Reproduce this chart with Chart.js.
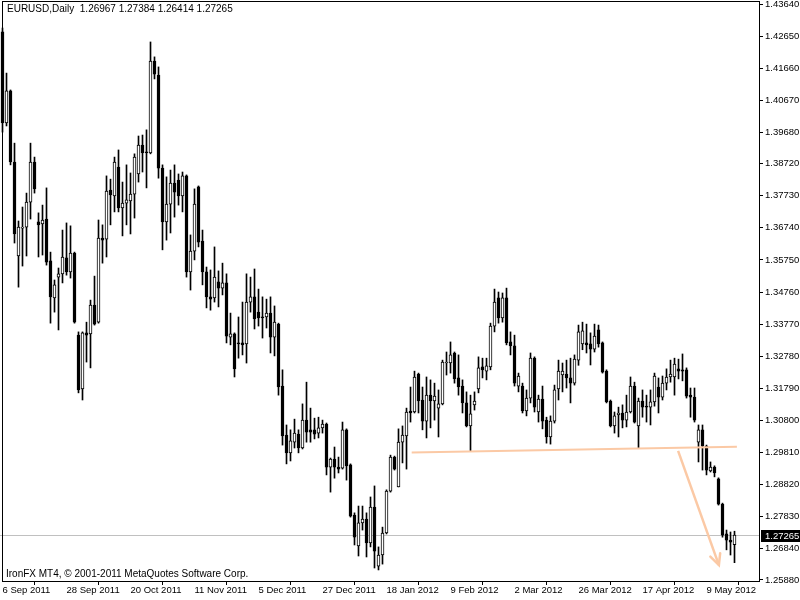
<!DOCTYPE html>
<html>
<head>
<meta charset="utf-8">
<script src="https://cdn.jsdelivr.net/npm/chart.js@4.4.0/dist/chart.umd.min.js"></script>
<style>
  html, body { margin: 0; padding: 0; background: #fff; }
  canvas { display: block; }
</style>
</head>
<body>
<canvas id="chart" width="800" height="600"></canvas>
<script>
// EURUSD daily, 6 Sep 2011 .. mid May 2012, one entry per trading day
const opens = [
  1.4278, 1.3997, 1.4096, 1.3877, 1.3587, 1.3673, 1.3676, 1.3753, 1.3877, 1.3692,
  1.3686, 1.3701, 1.3572, 1.3458, 1.3522, 1.3532, 1.3581, 1.3538, 1.3596, 1.3343,
  1.3177, 1.3350, 1.3347, 1.3436, 1.3383, 1.3642, 1.3639, 1.3790, 1.3772, 1.3861,
  1.3735, 1.3750, 1.3757, 1.3778, 1.3840, 1.3929, 1.3907, 1.3905, 1.4188, 1.4145,
  1.3858, 1.3692, 1.3747, 1.3812, 1.3821, 1.3772, 1.3834, 1.3538, 1.3602, 1.3800,
  1.3633, 1.3538, 1.3461, 1.3458, 1.3507, 1.3488, 1.3504, 1.3337, 1.3347, 1.3319,
  1.3319, 1.3316, 1.3445, 1.3461, 1.3414, 1.3399, 1.3399, 1.3411, 1.3337, 1.3377,
  1.3186, 1.3035, 1.2980, 1.3013, 1.3038, 1.2995, 1.3081, 1.3051, 1.3051, 1.3041,
  1.3057, 1.3069, 1.2936, 1.2961, 1.2936, 1.2933, 1.3051, 1.2943, 1.2788, 1.2693,
  1.2764, 1.2776, 1.2702, 1.2813, 1.2631, 1.2665, 1.2733, 1.2862, 1.2967, 1.2875,
  1.3013, 1.3032, 1.3109, 1.3106, 1.3223, 1.3143, 1.3078, 1.3158, 1.3140, 1.3118,
  1.3131, 1.3257, 1.3257, 1.3288, 1.3211, 1.3186, 1.3134, 1.3063, 1.3128, 1.3177,
  1.3245, 1.3232, 1.3245, 1.3371, 1.3458, 1.3396, 1.3458, 1.3322, 1.3310, 1.3186,
  1.3186, 1.3109, 1.3149, 1.3272, 1.3106, 1.3146, 1.3081, 1.3029, 1.3078, 1.3177,
  1.3220, 1.3223, 1.3211, 1.3195, 1.3266, 1.3316, 1.3319, 1.3316, 1.3300, 1.3359,
  1.3319, 1.3232, 1.3140, 1.3063, 1.3097, 1.3103, 1.3081, 1.3106, 1.3186, 1.3063,
  1.3140, 1.3124, 1.3121, 1.3137, 1.3183, 1.3152, 1.3195, 1.3214, 1.3214, 1.3239,
  1.3236, 1.3236, 1.3158, 1.3152, 1.3013, 1.3051, 1.3001, 1.2924, 1.2936, 1.2900,
  1.2822, 1.2730, 1.2711, 1.26967
];
const highs = [
  1.4290, 1.4151, 1.4099, 1.3935, 1.3695, 1.3738, 1.3781, 1.3935, 1.3892, 1.3720,
  1.3744, 1.3797, 1.3599, 1.3513, 1.3550, 1.3667, 1.3689, 1.3680, 1.3599, 1.3353,
  1.3353, 1.3383, 1.3451, 1.3525, 1.3698, 1.3683, 1.3834, 1.3824, 1.3892, 1.3914,
  1.3815, 1.3868, 1.3843, 1.3902, 1.3957, 1.3960, 1.3976, 1.4247, 1.4201, 1.4170,
  1.3868, 1.3831, 1.3852, 1.3868, 1.3840, 1.3846, 1.3837, 1.3652, 1.3794, 1.3803,
  1.3667, 1.3553, 1.3544, 1.3615, 1.3541, 1.3565, 1.3532, 1.3411, 1.3350, 1.3399,
  1.3445, 1.3532, 1.3522, 1.3547, 1.3485, 1.3461, 1.3454, 1.3461, 1.3433, 1.3380,
  1.3236, 1.3066, 1.3051, 1.3084, 1.3051, 1.3131, 1.3198, 1.3118, 1.3087, 1.3090,
  1.3081, 1.3072, 1.2964, 1.2998, 1.2967, 1.3075, 1.3054, 1.2946, 1.2795, 1.2816,
  1.2816, 1.2795, 1.2844, 1.2878, 1.2690, 1.2751, 1.2866, 1.2973, 1.2970, 1.3054,
  1.3063, 1.3118, 1.3183, 1.3232, 1.3226, 1.3183, 1.3214, 1.3205, 1.3195, 1.3174,
  1.3266, 1.3291, 1.3322, 1.3291, 1.3282, 1.3205, 1.3168, 1.3158, 1.3168, 1.3276,
  1.3272, 1.3272, 1.3380, 1.3485, 1.3476, 1.3473, 1.3488, 1.3353, 1.3343, 1.3226,
  1.3195, 1.3174, 1.3288, 1.3276, 1.3158, 1.3186, 1.3090, 1.3094, 1.3189, 1.3266,
  1.3257, 1.3266, 1.3272, 1.3282, 1.3374, 1.3383, 1.3377, 1.3350, 1.3377, 1.3374,
  1.3322, 1.3236, 1.3143, 1.3106, 1.3121, 1.3128, 1.3158, 1.3214, 1.3198, 1.3149,
  1.3174, 1.3158, 1.3174, 1.3226, 1.3211, 1.3217, 1.3239, 1.3266, 1.3272, 1.3269,
  1.3285, 1.3242, 1.3180, 1.3180, 1.3066, 1.3066, 1.3004, 1.2952, 1.2940, 1.2903,
  1.2825, 1.2742, 1.2736, 1.27384
];
const lows = [
  1.3969, 1.3988, 1.3868, 1.3627, 1.3491, 1.3556, 1.3587, 1.3701, 1.3781, 1.3584,
  1.3590, 1.3559, 1.3380, 1.3414, 1.3359, 1.3504, 1.3528, 1.3519, 1.3380, 1.3165,
  1.3143, 1.3260, 1.3242, 1.3374, 1.3380, 1.3565, 1.3584, 1.3683, 1.3723, 1.3723,
  1.3649, 1.3683, 1.3655, 1.3704, 1.3815, 1.3846, 1.3797, 1.3902, 1.4133, 1.3827,
  1.3606, 1.3636, 1.3658, 1.3707, 1.3744, 1.3723, 1.3522, 1.3482, 1.3575, 1.3615,
  1.3498, 1.3427, 1.3420, 1.3445, 1.3430, 1.3467, 1.3319, 1.3313, 1.3214, 1.3272,
  1.3282, 1.3257, 1.3414, 1.3362, 1.3371, 1.3334, 1.3365, 1.3288, 1.3279, 1.3158,
  1.3004, 1.2946, 1.2955, 1.2995, 1.2980, 1.2992, 1.3013, 1.3013, 1.3023, 1.3026,
  1.3041, 1.2912, 1.2859, 1.2902, 1.2918, 1.2930, 1.2896, 1.2782, 1.2696, 1.2662,
  1.2742, 1.2659, 1.2690, 1.2625, 1.2619, 1.2637, 1.2730, 1.2859, 1.2927, 1.2875,
  1.2949, 1.2930, 1.3075, 1.3103, 1.3103, 1.3051, 1.3026, 1.3057, 1.3081, 1.3029,
  1.3128, 1.3220, 1.3226, 1.3195, 1.3158, 1.3103, 1.3060, 1.2986, 1.3112, 1.3165,
  1.3211, 1.3205, 1.3236, 1.3353, 1.3380, 1.3383, 1.3313, 1.3282, 1.3186, 1.3168,
  1.3103, 1.3094, 1.3134, 1.3106, 1.3075, 1.3054, 1.3010, 1.3007, 1.3072, 1.3143,
  1.3168, 1.3180, 1.3134, 1.3189, 1.3250, 1.3298, 1.3288, 1.3251, 1.3291, 1.3306,
  1.3226, 1.3134, 1.3060, 1.3041, 1.3029, 1.3057, 1.3060, 1.3103, 1.3072, 1.2995,
  1.3090, 1.3075, 1.3066, 1.3124, 1.3103, 1.3143, 1.3174, 1.3198, 1.3158, 1.3208,
  1.3202, 1.3149, 1.3090, 1.3075, 1.2952, 1.2927, 1.2912, 1.2921, 1.2906, 1.2819,
  1.2720, 1.2681, 1.2665, 1.26414
];
const closes = [
  1.3997, 1.4096, 1.3877, 1.3655, 1.3676, 1.3676, 1.3753, 1.3877, 1.3794, 1.3683,
  1.3698, 1.3568, 1.3461, 1.3498, 1.3532, 1.3584, 1.3538, 1.3596, 1.3383, 1.3174,
  1.3350, 1.3343, 1.3436, 1.3377, 1.3642, 1.3636, 1.3787, 1.3775, 1.3877, 1.3735,
  1.3750, 1.3760, 1.3778, 1.3892, 1.3929, 1.3905, 1.3905, 1.4188, 1.4148, 1.3858,
  1.3692, 1.3747, 1.3812, 1.3784, 1.3772, 1.3834, 1.3538, 1.3602, 1.3747, 1.3630,
  1.3538, 1.3461, 1.3454, 1.3522, 1.3488, 1.3504, 1.3340, 1.3347, 1.3239, 1.3316,
  1.3313, 1.3445, 1.3461, 1.3393, 1.3396, 1.3396, 1.3411, 1.3337, 1.3383, 1.3183,
  1.3032, 1.2980, 1.3017, 1.3041, 1.2995, 1.3081, 1.3044, 1.3044, 1.3038, 1.3057,
  1.3069, 1.2936, 1.2961, 1.2936, 1.2930, 1.3051, 1.2940, 1.2785, 1.2720, 1.2764,
  1.2776, 1.2702, 1.2813, 1.2677, 1.2665, 1.2733, 1.2862, 1.2967, 1.2930, 1.3013,
  1.3035, 1.3106, 1.3103, 1.3214, 1.3140, 1.3078, 1.3158, 1.3140, 1.3155, 1.3131,
  1.3260, 1.3260, 1.3282, 1.3208, 1.3183, 1.3134, 1.3063, 1.3100, 1.3140, 1.3242,
  1.3236, 1.3248, 1.3371, 1.3445, 1.3396, 1.3458, 1.3319, 1.3310, 1.3195, 1.3217,
  1.3109, 1.3149, 1.3272, 1.3121, 1.3146, 1.3078, 1.3029, 1.3078, 1.3174, 1.3232,
  1.3232, 1.3211, 1.3195, 1.3269, 1.3353, 1.3356, 1.3313, 1.3300, 1.3340, 1.3316,
  1.3229, 1.3137, 1.3063, 1.3094, 1.3103, 1.3081, 1.3106, 1.3186, 1.3075, 1.3140,
  1.3121, 1.3121, 1.3137, 1.3217, 1.3152, 1.3195, 1.3214, 1.3223, 1.3254, 1.3232,
  1.3232, 1.3155, 1.3152, 1.3081, 1.3051, 1.3001, 1.2927, 1.2936, 1.2918, 1.2822,
  1.2726, 1.2711, 1.2705, 1.27265
];

// bar positions of the date labels and the labels themselves
const dateTicks = [0, 16, 32, 48, 64, 80, 96, 112, 128, 144, 160, 176];
const dateLabels = ["6 Sep 2011", "28 Sep 2011", "20 Oct 2011", "11 Nov 2011", "5 Dec 2011",
  "27 Dec 2011", "18 Jan 2012", "9 Feb 2012", "2 Mar 2012", "26 Mar 2012", "17 Apr 2012", "9 May 2012"];

const priceTicks = [1.43640, 1.42650, 1.41660, 1.40670, 1.39680, 1.38720, 1.37730, 1.36740,
  1.35750, 1.34760, 1.33770, 1.32780, 1.31790, 1.30800, 1.29810, 1.28820, 1.27830, 1.26840, 1.25880];

const lastPrice = 1.27265;

// hand drawn objects (bar index, price)
const necklineX = [102.3, 183.6];
const necklineY = [1.2981, 1.2999];
const arrowX = [168.9, 179.1];
const arrowY = [1.2986, 1.2634];

const FONT = "'Liberation Sans', Arial, sans-serif";
const PEACH = "#fbc9a5";

const wicks = lows.map((l, i) => ({ x: i, y: [l, highs[i]] }));
const bodies = opens.map((o, i) => ({ x: i, y: [o, closes[i]] }));
const bodyFill = opens.map((o, i) => (closes[i] >= o ? "#ffffff" : "#000000"));

const mt4Overlay = {
  id: "mt4Overlay",
  beforeDatasetsDraw(chart) {
    const { ctx, chartArea, scales } = chart;
    const py = Math.round(scales.y.getPixelForValue(lastPrice)) + 0.5;
    ctx.save();
    ctx.strokeStyle = "#c0c0c0";
    ctx.lineWidth = 1;
    ctx.beginPath();
    ctx.moveTo(chartArea.left, py);
    ctx.lineTo(chartArea.right, py);
    ctx.stroke();
    ctx.restore();
  },
  afterDraw(chart) {
    const { ctx, chartArea, scales } = chart;
    ctx.save();

    // arrow head
    const meta = chart.getDatasetMeta(3);
    const p0 = meta.data[0], p1 = meta.data[1];
    const ang = Math.atan2(p1.y - p0.y, p1.x - p0.x);
    ctx.strokeStyle = PEACH;
    ctx.lineWidth = 2.5;
    ctx.lineCap = "round";
    ctx.beginPath();
    ctx.moveTo(p1.x + 12 * Math.cos(ang + Math.PI - 0.45), p1.y + 12 * Math.sin(ang + Math.PI - 0.45));
    ctx.lineTo(p1.x, p1.y);
    ctx.lineTo(p1.x + 12 * Math.cos(ang + Math.PI + 0.45), p1.y + 12 * Math.sin(ang + Math.PI + 0.45));
    ctx.stroke();

    // frame
    ctx.strokeStyle = "#000";
    ctx.lineWidth = 1;
    ctx.lineCap = "butt";
    ctx.strokeRect(2.5, chartArea.top + 0.5, chartArea.right - 3, chartArea.bottom - chartArea.top);

    // current price label
    const py = Math.round(scales.y.getPixelForValue(lastPrice));
    ctx.fillStyle = "#000";
    ctx.fillRect(chartArea.right + 1, py - 5, 40, 12);
    ctx.fillStyle = "#fff";
    ctx.font = "9.5px " + FONT;
    ctx.textBaseline = "middle";
    ctx.fillText(lastPrice.toFixed(5), chartArea.right + 5, py + 1);

    // header and copyright
    ctx.fillStyle = "#000";
    ctx.font = "10px " + FONT;
    ctx.textBaseline = "alphabetic";
    ctx.fillText("EURUSD,Daily  " + [opens, highs, lows, closes].map(a => a[a.length - 1].toFixed(5)).join(" "), 7, 12);
    ctx.fillText("IronFX MT4, \u00a9 2001-2011 MetaQuotes Software Corp.", 6, chartArea.bottom - 4);
    ctx.restore();
  }
};

new Chart(document.getElementById("chart"), {
  type: "bar",
  data: {
    datasets: [
      {
        data: bodies,
        grouped: false,
        barThickness: 3,
        minBarLength: 1,
        backgroundColor: bodyFill,
        borderColor: "#000",
        borderWidth: 1,
        borderSkipped: false,
        order: 1,
      },
      {
        data: wicks,
        grouped: false,
        barThickness: 1,
        backgroundColor: "#000",
        borderWidth: 0,
        order: 2,
      },
      {
        type: "line",
        data: necklineX.map((x, i) => ({ x: x, y: necklineY[i] })),
        borderColor: PEACH,
        borderWidth: 2,
        pointRadius: 0,
        order: 0,
      },
      {
        type: "line",
        data: arrowX.map((x, i) => ({ x: x, y: arrowY[i] })),
        borderColor: PEACH,
        borderWidth: 2.5,
        pointRadius: 0,
        order: 0,
      },
    ],
  },
  options: {
    responsive: false,
    animation: false,
    devicePixelRatio: 1,
    layout: { padding: { top: 1, left: 0, right: 0, bottom: 0 } },
    plugins: {
      legend: { display: false },
      tooltip: { enabled: false },
    },
    scales: {
      x: {
        type: "linear",
        offset: false,
        min: -0.625,
        max: 189.375,
        afterBuildTicks: (scale) => {
          scale.ticks = dateTicks.map((v) => ({ value: v }));
        },
        afterFit: (scale) => {
          scale.height = 19;
          scale.paddingLeft = 0;
          scale.paddingRight = 0;
        },
        grid: { drawOnChartArea: false, drawTicks: true, tickLength: 4, color: "#000" },
        border: { display: false },
        ticks: {
          autoSkip: false,
          maxRotation: 0,
          minRotation: 0,
          align: "start",
          padding: 0,
          color: "#000",
          font: { family: FONT, size: 9.5 },
          callback: (v) => dateLabels[dateTicks.indexOf(v)],
        },
      },
      y: {
        type: "linear",
        position: "right",
        min: 1.25849,
        max: 1.43733,
        afterBuildTicks: (scale) => {
          scale.ticks = priceTicks.map((v) => ({ value: v }));
        },
        afterFit: (scale) => {
          scale.width = 40;
          scale.paddingTop = 0;
          scale.paddingBottom = 0;
        },
        grid: { drawOnChartArea: false, drawTicks: true, tickLength: 3, color: "#000" },
        border: { display: false },
        ticks: {
          autoSkip: false,
          padding: 2,
          color: "#000",
          font: { family: FONT, size: 9.5 },
          callback: (v) => v.toFixed(5),
        },
      },
    },
  },
  plugins: [mt4Overlay],
});
</script>
</body>
</html>
